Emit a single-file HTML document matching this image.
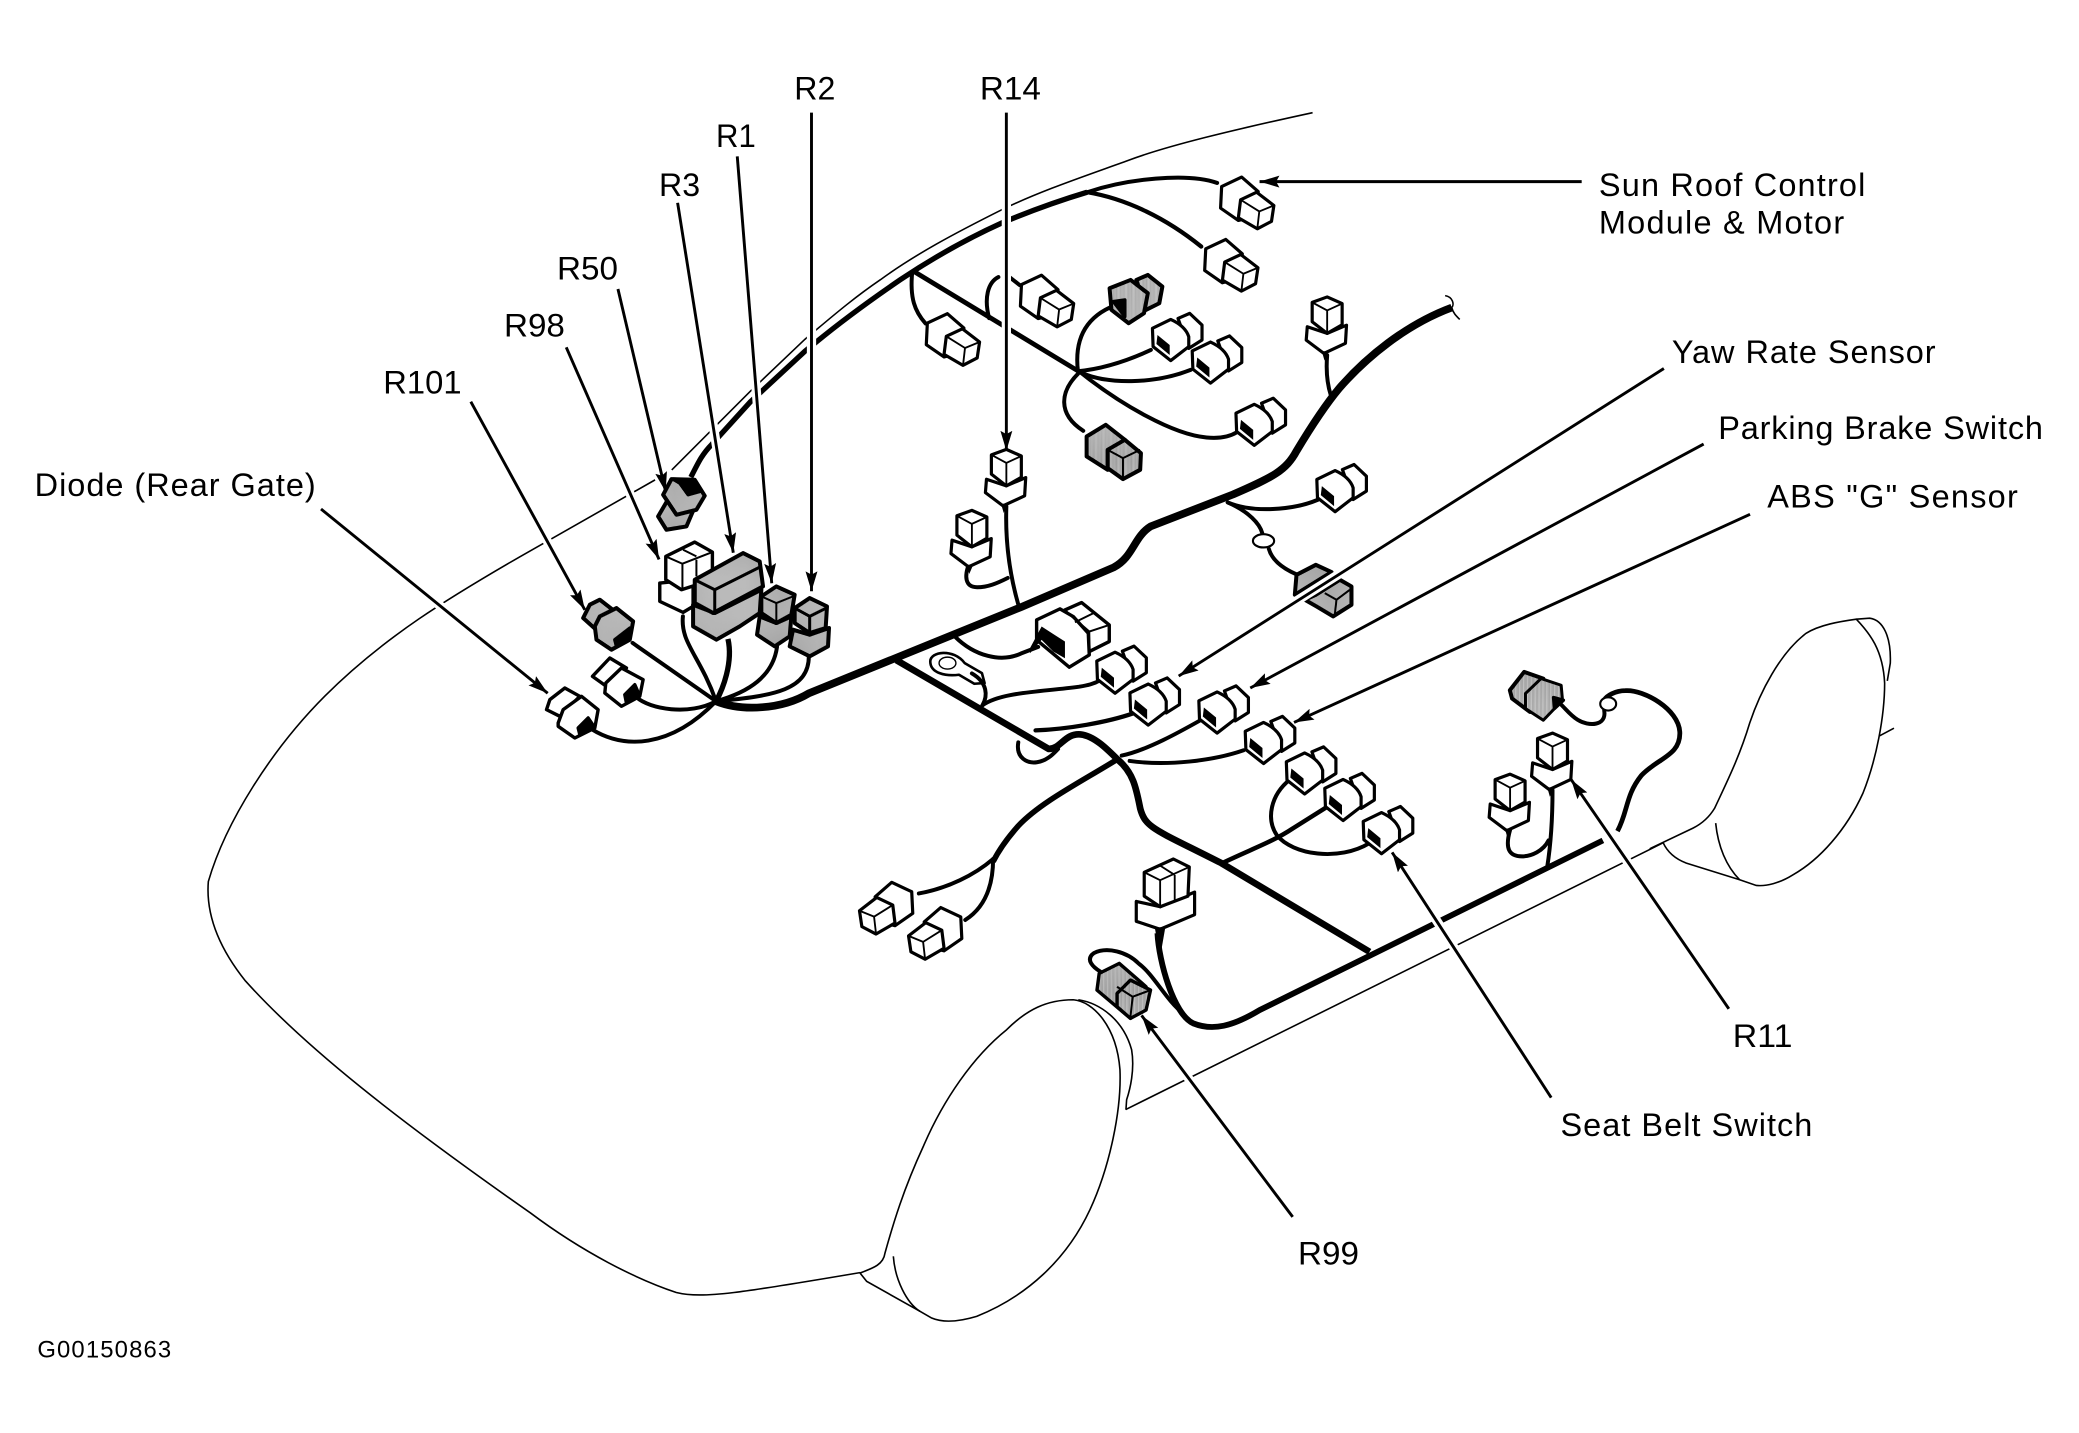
<!DOCTYPE html>
<html>
<head>
<meta charset="utf-8">
<title>Wiring harness diagram</title>
<style>
html,body{margin:0;padding:0;background:#fff;width:2079px;height:1433px;overflow:hidden}
svg{display:block}
text{font-family:"Liberation Sans",sans-serif;font-size:24.5px;fill:#000}
.car{fill:none;stroke:#000;stroke-width:1.2}
.cz{fill:none;stroke:#000;stroke-width:1.6}
.cz *{vector-effect:non-scaling-stroke}
.w{fill:none;stroke:#000;stroke-width:3;stroke-linecap:round;stroke-linejoin:round}
.t{fill:none;stroke:#000;stroke-width:5.8;stroke-linejoin:round}
.m{fill:none;stroke:#000;stroke-width:4;stroke-linejoin:round}
.c{stroke:#000;stroke-width:2.4;stroke-linejoin:round}
.c use{stroke:#000}
.ar{fill:none;stroke:#000;stroke-width:2.2}
.ha{fill:none;stroke:#fff;stroke-width:7}
.n *{vector-effect:non-scaling-stroke}
.n{stroke:#000;stroke-width:3.4;stroke-linejoin:round;fill:#fff}
.g{fill:url(#st)}
.l{fill:none;stroke-width:2}
.k{fill:#000}
</style>
</head>
<body>
<svg xmlns="http://www.w3.org/2000/svg" width="2079" height="1433" viewBox="0 0 1568 1081">
<defs>
<pattern id="st" width="3.016" height="3.016" patternUnits="userSpaceOnUse">
<rect width="3.016" height="3.016" fill="#fff"/>
<rect x="0" y="0" width=".754" height=".754" fill="#000"/>
<rect x="1.508" y=".754" width=".754" height=".754" fill="#000"/>
<rect x=".754" y="1.508" width=".754" height=".754" fill="#000"/>
<rect x="2.262" y="2.262" width=".754" height=".754" fill="#000"/>
<rect x="0" y="2.262" width=".754" height=".754" fill="#000"/>
</pattern>
<marker id="a" markerUnits="userSpaceOnUse" viewBox="0 0 15 9" refX="15" refY="4.5" markerWidth="15" markerHeight="9" orient="auto">
<polygon points="0,0 15,4.5 0,9 2.5,4.5" fill="#000"/>
</marker>
<g id="r">
<path d="M2.5 -13.8 L11.3 -17.6 L20.6 -8.8 L20.6 2.5 L10.6 8.8 Z"/>
<path d="M-16.8 -6.3 L-3 -13 Q8 -8 10.6 0 L10.6 7.5 L-3 18 L-16.3 7.5 Z"/>
<polygon points="-13,-1.3 -3.8,6.3 -3.8,13.8 -13.8,5.5" fill="#000" stroke="none"/>
</g>
<g id="b">
<path d="M-17.6 -12.3 L-2.5 -19.4 L10 -8.5 L8 10 L-5 13.3 L-18.4 4 Z"/>
<path d="M-3.3 -2.3 L8.8 -8 L21.8 2 L20 14 L9.3 19.6 L-5 11.3 Z"/>
<path d="M-3.3 -2.3 L10.8 6.5 L21.8 2 M10.8 6.5 L9.3 19.6" fill="none" stroke-width="1.4"/>
</g>
<g id="v">
<path d="M-15 2.5 L-15.8 12.6 L-2.5 22.6 L13.8 15 L14.6 1.3 L0 7.5 Z"/>
<path d="M-11.3 -15.9 L0 -20 L11.3 -15 L11.3 1 L0 7.5 L-11.3 -1.3 Z"/>
<path d="M-11.3 -15.9 L0 -9.8 L11.3 -15 M0 -9.8 L0 7.5" fill="none" stroke-width="1.4"/>
<polygon points="-4,21 1,21 -2,28" fill="#000" stroke="none"/>
</g>
</defs>

<rect width="1568" height="1081" fill="#fff"/>

<!-- car outline -->
<path class="car" d="M990 85 C930 98 880 110 851 121 C815 134 785 144 756 158 C720 176 690 192 664 211 C642 226 625 241 607 256 L566 295 L535.5 325.6 L506.6 354.5 M494 362 L392 420 C340 450 290 480 245 525 C205 565 170 620 157 665 C155 690 165 715 185 740 C230 790 300 845 400 915 C440 945 480 965 510 975 C530 980 560 975 648.6 960"/>
<path class="car" d="M849 837 L1254 636"/>
<!-- front wheel -->
<g class="cz" transform="translate(648.6,724) scale(.2514)">
<path d="M0 940 C40 925 70 915 75 880 C100 790 130 690 190 560 C250 420 340 290 440 210 C500 150 560 120 640 120 C700 125 770 200 780 330 C785 450 750 620 690 750 C620 900 500 1010 350 1070 C300 1085 250 1090 215 1075 L180 1055 L20 965 L0 940"/>
<path d="M100 890 C105 960 140 1030 180 1055"/>
<path d="M655 120 C720 130 790 180 815 270 C825 330 810 390 800 420 L798 450"/>
</g>
<!-- rear wheel -->
<g class="cz" transform="translate(1244.3,452.5) scale(.2514)">
<path d="M0 747 L130 685 C160 670 180 650 195 625 C230 550 270 470 300 370 C330 280 390 160 470 100 C510 75 570 65 620 58 C660 100 700 150 705 250 C705 350 680 480 640 580 C590 690 510 780 430 825 C390 850 350 860 320 857 L270 840 L110 790 C70 775 50 750 40 728"/>
<path d="M198 670 C205 740 230 800 270 840"/>
<path d="M620 58 L660 55 C700 60 725 110 722 190 L713 243"/>
<path d="M690 408 L733 385"/>
</g>

<!-- main trunk -->
<path class="t" d="M540 529 C560 537 590 535 610 523 L770 458 L840 428 C855 420 855 405 868 397 L930 373 C960 360 970 355 978 340 C990 320 1000 305 1010 293 C1030 270 1060 245 1095 232"/>
<path class="car" d="M1090 223 C1096 224 1097 230 1095 232 C1096 236 1098 238 1101 241" stroke-width="1.4"/>

<!-- roof harness -->
<path class="m" d="M521 360 C527 348 530 342 537 335 L566 303 L607 265 L616 257.7 C640 238 660 224 679 211 C700 197 725 182 756 168 C780 158 800 151 820 145"/>
<path class="w" d="M820 145 C850 135 895 130 918 138"/>
<path class="w" d="M820 145 C850 150 880 165 906 186" style="stroke-width:3.2"/>
<path class="m" d="M688 204 L815 281" style="stroke-width:3.6"/>
<path class="w" d="M815 281 C845 305 885 328 910 330 C920 331 928 329 933 326"/>
<path class="w" d="M688 205 C686 225 690 235 698 244"/>
<path class="w" d="M746 240 C742 225 745 213 753 209 M760 208 L769 215"/>
<path class="w" d="M813 280 C810 255 820 240 837 232"/>
<path class="w" d="M813 280 C835 278 855 270 868 264"/>
<path class="w" d="M815 281 C835 290 870 290 898 279"/>
<path class="w" d="M813 282 C800 295 797 312 817 325"/>

<!-- R14 wires -->
<path class="w" d="M759 382 C758 410 762 435 768 456"/>
<path class="w" d="M731 425 C727 435 728 443 737 443 C745 443 752 440 760 436"/>

<!-- right-side branches -->
<path class="w" d="M1001 268 C1000 280 1001 290 1004 299"/>
<path class="w" d="M926 379 C945 387 975 385 994 377"/>
<path class="w" d="M926 379 C942 386 950 395 952 402 M957 414 C960 425 972 432 988 437"/>
<ellipse cx="953" cy="408" rx="8" ry="5" fill="#fff" stroke="#000" stroke-width="1.6"/>

<!-- hub wires -->
<path class="w" d="M477 485 L540 529"/>
<path class="w" d="M480 526 C490 535 520 540 540 529"/>
<path class="w" d="M446 550 C470 565 505 565 540 529"/>
<path class="w" d="M515 465 C513 485 528 495 540 529"/>
<path class="m" d="M549 482 C553 500 545 520 540 529"/>
<path class="w" d="M586 488 C583 510 565 522 540 529"/>
<path class="w" d="M610 495 C610 520 585 525 540 529"/>

<!-- second trunk -->
<path class="t" style="stroke-width:5" d="M676 498 L791 565 C800 565 803 553 815 554 C825 555 835 565 843 573 C855 583 857 595 860 610 C864 625 872 626 921 651 L1033 718"/>
<path class="t" style="stroke-width:4.2" d="M844 572 C815 590 785 605 768 623 C760 632 754 640 749 650"/>
<path class="w" d="M749 648 C735 660 715 670 693 674"/>
<path class="w" d="M749 648 C749 670 742 685 728 694"/>
<path class="w" d="M768 560 C766 572 775 576 782 575 C790 574 795 568 798 565"/>
<path class="w" d="M846 570 C865 566 890 552 906 543"/>
<path class="w" d="M852 574 C880 578 915 574 938 566"/>
<path class="w" d="M720 480 C735 495 755 500 770 493 L783 488"/>
<path class="w" d="M741 532 C755 522 785 522 814 518 C820 517 825 516 830 513"/>
<path class="w" d="M781 551 C805 550 835 545 855 538" style="stroke-width:3.2"/>
<path class="w" d="M733 508 C745 515 745 525 741 532"/>

<!-- ring terminal -->
<g class="n" transform="translate(641,437.4) scale(.2886,.2513)">
<path class="l" style="stroke-width:2.6" d="M210 245 C210 215 270 205 300 250 L345 280 L352 310 L325 312 L285 285 C250 290 210 280 210 245 Z"/>
<ellipse class="l" style="stroke-width:1.4" cx="255" cy="250" rx="22" ry="18"/>
</g>

<!-- right cluster -->
<path class="m" d="M922 651 C945 640 960 635 975 625 L1002 608" style="stroke-width:3.4"/>
<path class="w" d="M973 588 C958 600 955 618 963 630 C975 645 1010 650 1033 636"/>

<!-- lower trunk -->
<path class="m" style="stroke-width:4.4" d="M1209 634 L950 762 C930 774 915 778 900 772 C885 765 874 725 873 704"/>
<path class="w" d="M892 764 C880 755 870 735 859 727 C850 718 835 714 825 719 C818 724 825 730 830 733"/>
<path class="m" style="stroke-width:3.6" d="M1220 627 C1228 612 1226 600 1238 585 C1250 572 1268 570 1267 552 C1266 535 1240 520 1226 521 C1218 521 1212 525 1210 528"/>
<path class="w" d="M1210 536 C1212 548 1198 548 1190 543 C1185 540 1182 536 1178 532"/>
<ellipse cx="1213" cy="531" rx="6" ry="5" fill="#fff" stroke="#000" stroke-width="1.6"/>
<path class="w" d="M1171 596 C1171 615 1170 635 1167 654"/>
<path class="w" d="M1139 626 C1135 640 1138 646 1148 646 C1155 646 1164 642 1168 634"/>

<!-- connectors -->
<g class="c" fill="#fff">
<use href="#r" x="886" y="254"/>
<use href="#r" x="916" y="271"/>
<use href="#r" x="949" y="318"/>
<use href="#r" x="1010" y="368"/>
<use href="#r" x="844" y="505"/>
<use href="#r" x="869" y="529"/>
<use href="#r" x="921" y="535"/>
<use href="#r" x="956" y="558"/>
<use href="#r" x="987" y="581"/>
<use href="#r" x="1016" y="601"/>
<use href="#r" x="1045" y="626"/>
<use href="#b" x="939" y="153"/>
<use href="#b" x="927" y="200"/>
<use href="#b" x="717" y="256"/>
<use href="#b" x="788" y="227"/>
<use href="#b" transform="translate(670,685) scale(-1,1)"/>
<use href="#b" transform="translate(707,704) scale(-1,1)"/>
<use href="#v" x="759" y="359"/>
<use href="#v" x="733" y="405"/>
<use href="#v" x="1001" y="244"/>
<use href="#v" x="1171" y="573"/>
<use href="#v" x="1139" y="604"/>
<!-- two-wide vertical connector -->
<path d="M857 680 L857 695 L875 701 L901 690 L901 673 L875 684 Z"/>
<path d="M863 658 L885 648 L897 654 L896 676 L875 684 L863 676 Z"/>
<path d="M863 658 L875 664 L897 654 M875 664 L875 684 M886 660 L886 679 M875 653 L886 660" fill="none" stroke-width="1.4"/>
<polygon points="871,700 879,699 875,722" fill="#000" stroke="none"/>
</g>

<!-- large rear-facing connector, true 3x coords -->
<g class="n" transform="translate(776.8,445) scale(.2514)">
<path d="M105 60 L155 38 L238 105 L238 155 L178 185 Z"/>
<path d="M20 90 L90 57 L130 80 L175 130 L178 195 L118 232 L20 150 Z"/>
<path class="l" d="M105 62 L178 125 L238 105 M135 97 L190 70 M178 125 L178 190"/>
<polygon class="k" stroke="none" points="35,110 105,155 105,205 70,185 35,150 0,190 0,175"/>
</g>

<!-- rear cluster, in zoom-1 coordinates -->
<g class="n" transform="translate(392,316.7) scale(.2513)">
<path d="M420 490 L420 545 L490 578 L520 560 L520 480 Z"/>
<path d="M438 410 L525 367 L578 397 L578 480 L485 510 L438 480 Z"/>
<path class="l" d="M438 410 L488 432 L578 397 M488 432 L488 510 M530 420 L530 470 M490 390 L530 410"/>
<path class="g" style="stroke-width:4" d="M520 555 L520 620 L590 660 L660 620 L720 580 L725 510 L585 580 Z"/>
<path class="g" style="stroke-width:4" d="M525 480 L670 400 L720 425 L730 500 L580 580 L525 550 Z"/>
<path class="l" style="stroke-width:3" d="M525 480 L585 510 L725 440 M585 510 L585 580"/>
<path class="g" style="stroke-width:4" d="M720 590 L712 645 L765 680 L810 650 L815 590 L770 610 Z"/>
<path class="g" style="stroke-width:4" d="M725 530 L770 500 L825 525 L815 585 L770 610 L725 580 Z"/>
<path class="l" d="M725 530 L770 550 L820 530 M770 550 L770 605"/>
<path class="g" style="stroke-width:4" d="M820 630 L810 680 L870 710 L925 680 L928 625 L870 645 Z"/>
<path class="g" style="stroke-width:4" d="M825 565 L870 535 L922 560 L918 625 L870 640 L825 610 Z"/>
<path class="l" style="stroke-width:3" d="M825 565 L870 590 L920 565 M870 590 L870 640"/>
<path class="g" style="stroke-width:4" d="M190 595 L210 555 L240 540 L285 575 L240 640 Z"/>
<path class="g" style="stroke-width:4" d="M225 620 L240 590 L290 565 L340 605 L330 660 L275 690 L230 660 Z"/>
<polygon class="k" points="285,660 330,625 330,660 290,680"/>
<path class="g" style="stroke-width:4" d="M415 290 L450 230 L530 250 L500 320 L440 330 Z"/>
<path class="g" style="stroke-width:4" d="M430 225 L455 178 L525 180 L555 228 L530 270 L470 285 Z"/>
<polygon class="k" points="460,178 525,180 540,215 505,225 480,190"/>
<path d="M218 770 L270 715 L320 745 L260 800 Z"/>
<path d="M258 790 L305 745 L370 780 L360 830 L305 860 L255 820 Z"/>
<polygon class="k" points="315,825 345,795 358,825 320,850"/>
<path d="M80 870 L90 840 L135 805 L180 830 L120 890 Z"/>
<path d="M115 910 L130 870 L185 830 L235 870 L225 925 L165 955 L115 920 Z"/>
<polygon class="k" points="175,925 205,895 222,920 180,945"/>
</g>

<!-- gray connectors, zoom-2 coords -->
<g class="n" transform="translate(663.7,120.7) scale(.2886,.2513)">
<path class="g" style="stroke-width:4" d="M670 360 L700 345 L738 380 L730 430 L695 450 Z"/>
<path class="g" style="stroke-width:4" d="M600 385 L655 360 L700 400 L690 460 L650 490 L605 450 Z"/>
<polygon class="k" points="610,425 640,420 640,470"/>
<path class="g" style="stroke-width:4" d="M540 830 L590 795 L640 840 L600 870 L595 930 L540 890 Z"/>
<path class="g" style="stroke-width:4" d="M595 870 L640 840 L682 880 L680 930 L635 958 L595 925 Z"/>
<path class="l" d="M595 870 L635 895 L680 870 M635 895 L635 955"/>
</g>
<!-- gray connector at yaw arrow, true 3x coords -->
<g class="n" transform="translate(965.3,407.2) scale(.2514)">
<path class="g" style="stroke-width:4" d="M50 105 L108 75 L155 97 L45 165 Z"/>
<path class="g" style="stroke-width:4" d="M75 180 L108 165 L180 120 L215 140 L215 195 L160 230 L110 200 Z"/>
<path class="l" d="M135 160 L170 180 L210 150 M170 180 L165 225"/>
</g>

<!-- gray connectors, zoom-4 coords -->
<g class="n" transform="translate(792,483) scale(.3367,.2513)">
<path class="g" style="stroke-width:4" d="M1030 150 L1062 95 L1105 115 L1075 215 L1035 175 Z"/>
<path class="g" style="stroke-width:3" d="M1065 160 L1100 115 L1145 135 L1148 180 L1105 240 L1065 205 Z"/>
<polygon class="k" points="1128,172 1150,180 1130,205"/>
<path class="g" d="M105 1050 L110 1000 L155 970 L215 1040 L180 1135 Z"/>
<path class="g" d="M150 1060 L180 1020 L225 1050 L215 1110 L180 1135 L150 1100 Z"/>
<path class="l" d="M150 1040 L185 1070 L225 1050 M185 1070 L180 1130"/>
</g>

<!-- arrow halos -->
<g class="ha">
<line x1="612" y1="85" x2="612" y2="432"/>
<line x1="556" y1="118" x2="581" y2="426"/>
<line x1="511" y1="153" x2="551" y2="403"/>
<line x1="466" y1="218" x2="499" y2="357"/>
<line x1="427" y1="262" x2="491" y2="409"/>
<line x1="355" y1="303" x2="434" y2="447"/>
<line x1="242" y1="384" x2="402" y2="514"/>
<line x1="759" y1="85" x2="759" y2="326"/>
<line x1="1193" y1="137" x2="964" y2="137"/>
<line x1="1255" y1="278" x2="901" y2="502"/>
<line x1="1285" y1="335" x2="955" y2="512"/>
<line x1="1320" y1="388" x2="989" y2="539"/>
<line x1="1304" y1="761" x2="1193" y2="600"/>
<line x1="1170" y1="828" x2="1058" y2="655"/>
<line x1="975" y1="918" x2="869" y2="777"/>
</g>
<!-- arrows -->
<g class="ar">
<line x1="612" y1="85" x2="612" y2="446" marker-end="url(#a)"/>
<line x1="556" y1="118" x2="582" y2="440" marker-end="url(#a)"/>
<line x1="511" y1="153" x2="553" y2="417" marker-end="url(#a)"/>
<line x1="466" y1="218" x2="502" y2="371" marker-end="url(#a)"/>
<line x1="427" y1="262" x2="497" y2="422" marker-end="url(#a)"/>
<line x1="355" y1="303" x2="441" y2="460" marker-end="url(#a)"/>
<line x1="242" y1="384" x2="413" y2="523" marker-end="url(#a)"/>
<line x1="759" y1="85" x2="759" y2="340" marker-end="url(#a)"/>
<line x1="1193" y1="137" x2="950" y2="137" marker-end="url(#a)"/>
<line x1="1255" y1="278" x2="889" y2="510" marker-end="url(#a)"/>
<line x1="1285" y1="335" x2="943" y2="519" marker-end="url(#a)"/>
<line x1="1320" y1="388" x2="976" y2="545" marker-end="url(#a)"/>
<line x1="1304" y1="761" x2="1185" y2="588" marker-end="url(#a)"/>
<line x1="1170" y1="828" x2="1050" y2="643" marker-end="url(#a)"/>
<line x1="975" y1="918" x2="861" y2="766" marker-end="url(#a)"/>
</g>

<!-- labels -->
<text x="599" y="75" textLength="31" lengthAdjust="spacingAndGlyphs">R2</text>
<text x="739" y="75" textLength="46" lengthAdjust="spacingAndGlyphs">R14</text>
<text x="540" y="111" textLength="30" lengthAdjust="spacingAndGlyphs">R1</text>
<text x="497" y="148" textLength="31" lengthAdjust="spacingAndGlyphs">R3</text>
<text x="420" y="211" textLength="46" lengthAdjust="spacingAndGlyphs">R50</text>
<text x="380" y="254" textLength="46" lengthAdjust="spacingAndGlyphs">R98</text>
<text x="289" y="297" textLength="59" lengthAdjust="spacingAndGlyphs">R101</text>
<text x="26" y="374" textLength="212">Diode (Rear Gate)</text>
<text x="1206" y="148" textLength="201">Sun Roof Control</text>
<text x="1206" y="176" textLength="185">Module &amp; Motor</text>
<text x="1261" y="274" textLength="199">Yaw Rate Sensor</text>
<text x="1296" y="331" textLength="245">Parking Brake Switch</text>
<text x="1333" y="383" textLength="189">ABS "G" Sensor</text>
<text x="1307" y="790" textLength="45" lengthAdjust="spacingAndGlyphs">R11</text>
<text x="1177" y="857" textLength="190">Seat Belt Switch</text>
<text x="979" y="954" textLength="46" lengthAdjust="spacingAndGlyphs">R99</text>
<text x="28" y="1024" textLength="101" style="font-size:18px">G00150863</text>
</svg>
</body>
</html>
